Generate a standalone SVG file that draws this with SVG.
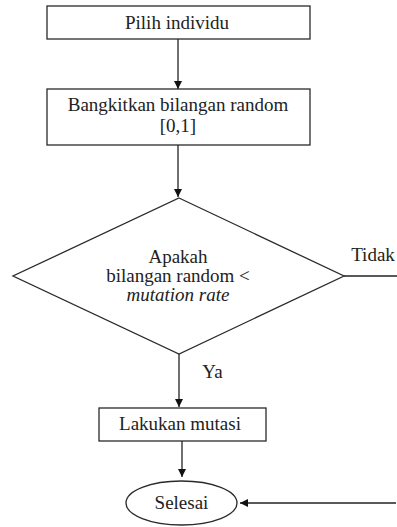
<svg xmlns="http://www.w3.org/2000/svg" width="397" height="527" viewBox="0 0 397 527">
<defs>
<marker id="ah" viewBox="0 0 10 10" refX="10" refY="5" markerWidth="8" markerHeight="8" markerUnits="userSpaceOnUse" orient="auto">
<path d="M0,0 L10,5 L0,10 z" fill="#111"/>
</marker>
<style>
.s{fill:#fff;stroke:#2a2a2a;stroke-width:1.3}
.t{font-family:'Liberation Serif','Times New Roman',serif;font-size:19px;fill:#222;text-anchor:middle}
.c{fill:none;stroke:#222;stroke-width:1.3}
</style>
</defs>
<rect width="397" height="527" fill="#fff"/>
<g id="connectors">
<line class="c" x1="178" y1="39" x2="178" y2="89" marker-end="url(#ah)"/>
<line class="c" x1="178" y1="145" x2="178" y2="197" marker-end="url(#ah)"/>
<line class="c" x1="179" y1="354" x2="179" y2="407" marker-end="url(#ah)"/>
<line class="c" x1="182" y1="441" x2="182" y2="477" marker-end="url(#ah)"/>
<line class="c" x1="344" y1="276" x2="397" y2="276"/>
<line class="c" x1="396" y1="503" x2="240" y2="503" marker-end="url(#ah)"/>
<text class="t" x="212.5" y="378">Ya</text>
<text class="t" x="373" y="261">Tidak</text>
</g>
<g id="n1">
<rect class="s" x="47" y="6" width="263" height="33"/>
<text class="t" x="177" y="29">Pilih individu</text>
</g>
<g id="n2">
<rect class="s" x="47" y="89" width="263" height="56"/>
<text class="t" x="178" y="111">Bangkitkan bilangan random</text>
<text class="t" x="178" y="132">[0,1]</text>
</g>
<g id="n3">
<polygon class="s" points="179,198 344,276 179,354 13,276"/>
<text class="t" x="178" y="263">Apakah</text>
<text class="t" x="178" y="282">bilangan random &lt;</text>
<text class="t" x="178" y="301" font-style="italic">mutation rate</text>
</g>
<g id="n4">
<rect class="s" x="99" y="408" width="167" height="33"/>
<text class="t" x="180" y="430">Lakukan mutasi</text>
</g>
<g id="n5">
<ellipse class="s" cx="181.5" cy="503" rx="55.5" ry="22"/>
<text class="t" x="181.5" y="509">Selesai</text>
</g>
</svg>
